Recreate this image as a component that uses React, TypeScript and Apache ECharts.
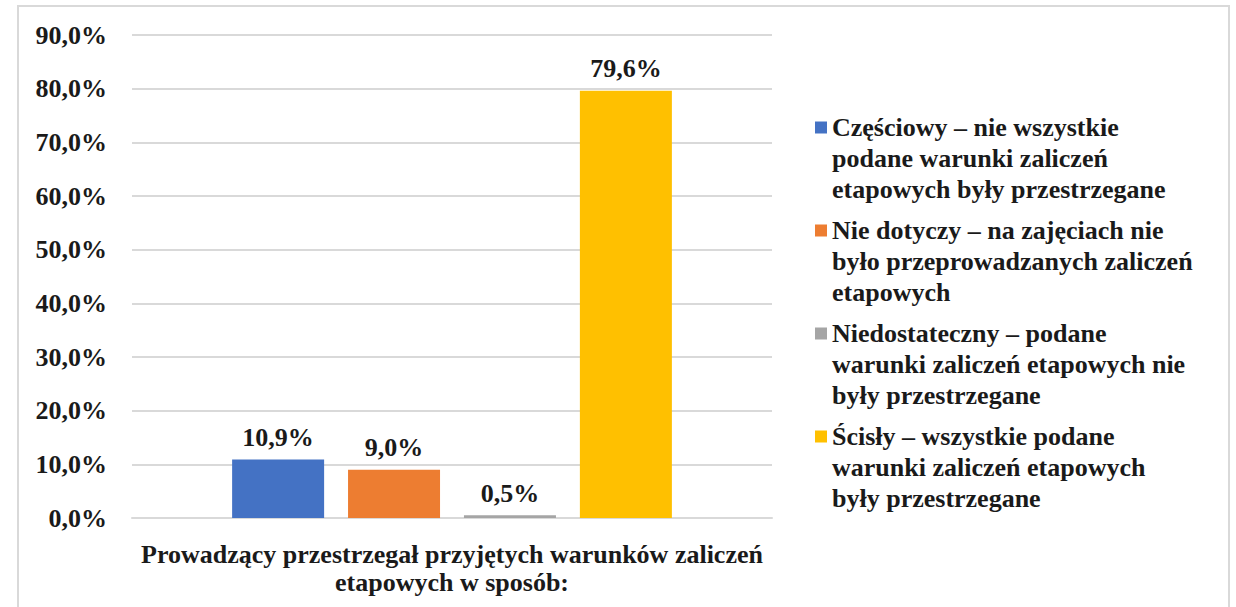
import React, { useEffect, useRef } from "react";
import * as echarts from "echarts";

const categories = ["Prowadzący przestrzegał przyjętych warunków zaliczeń\netapowych w sposób:"];
const seriesNames = [
  "Częściowy – nie wszystkie podane warunki zaliczeń etapowych były przestrzegane",
  "Nie dotyczy – na zajęciach nie było przeprowadzanych zaliczeń etapowych",
  "Niedostateczny – podane warunki zaliczeń etapowych nie były przestrzegane",
  "Ścisły – wszystkie podane warunki zaliczeń etapowych były przestrzegane",
];
const legendLabels = [
  "Częściowy – nie wszystkie\npodane warunki zaliczeń\netapowych były przestrzegane",
  "Nie dotyczy – na zajęciach nie\nbyło przeprowadzanych zaliczeń\netapowych",
  "Niedostateczny – podane\nwarunki zaliczeń etapowych nie\nbyły przestrzegane",
  "Ścisły – wszystkie podane\nwarunki zaliczeń etapowych\nbyły przestrzegane",
];
const values = [10.9, 9.0, 0.5, 79.6];
const colors = ["#4472C4", "#ED7D31", "#A5A5A5", "#FFC000"];

const FONT = "Liberation Serif";
const fmt = (v: number) => v.toFixed(1).replace(".", ",") + "%";

export default function App() {
  const ref = useRef<HTMLDivElement>(null);
  useEffect(() => {
    if (!ref.current) return;
    const chart = echarts.init(ref.current, undefined, { renderer: "svg" });
    chart.setOption({
      animation: false,
      backgroundColor: "#ffffff",
      textStyle: { fontFamily: FONT },
      graphic: [
        {
          type: "rect",
          shape: { x: 18, y: 6, width: 1211, height: 620 },
          style: { fill: "none", stroke: "#d9d9d9", lineWidth: 2 },
          silent: true,
        },
      ],
      grid: { left: 132, right: 464, top: 35, bottom: 89, containLabel: false },
      legend: {
        orient: "vertical",
        left: 815,
        top: 50,
        padding: 0,
        itemWidth: 12,
        itemHeight: 12,
        itemGap: -52,
        icon: "rect",
        data: seriesNames,
        formatter: (name: string) => "\n\n" + legendLabels[seriesNames.indexOf(name)],
        textStyle: {
          fontFamily: FONT,
          fontWeight: "bold",
          fontSize: 26,
          lineHeight: 31,
          color: "#1a1a1a",
        },
      },
      xAxis: {
        type: "category",
        data: categories,
        axisLine: { show: true, lineStyle: { color: "#d9d9d9", width: 2 } },
        axisTick: { show: false },
        axisLabel: {
          fontFamily: FONT,
          fontWeight: "bold",
          fontSize: 26,
          lineHeight: 28,
          color: "#1a1a1a",
          margin: 22,
        },
      },
      yAxis: {
        type: "value",
        min: 0,
        max: 90,
        interval: 10,
        axisLine: { show: false },
        axisTick: { show: false },
        splitLine: { lineStyle: { color: "#d9d9d9", width: 2 } },
        axisLabel: {
          formatter: (v: number) => fmt(v),
          fontFamily: FONT,
          fontWeight: "bold",
          fontSize: 26,
          color: "#1a1a1a",
          margin: 25,
        },
      },
      series: seriesNames.map((name, i) => ({
        name,
        type: "bar",
        data: [values[i]],
        barWidth: 92,
        barGap: "26%",
        itemStyle: { color: colors[i] },
        label: {
          show: true,
          position: "top",
          distance: 9,
          formatter: (p: any) => fmt(p.value),
          fontFamily: FONT,
          fontWeight: "bold",
          fontSize: 26,
          color: "#1a1a1a",
        },
      })),
    });
    return () => chart.dispose();
  }, []);
  return (
    <div
      ref={ref}
      style={{ position: "absolute", left: 0, top: 0, width: 1236, height: 607 }}
    />
  );
}
